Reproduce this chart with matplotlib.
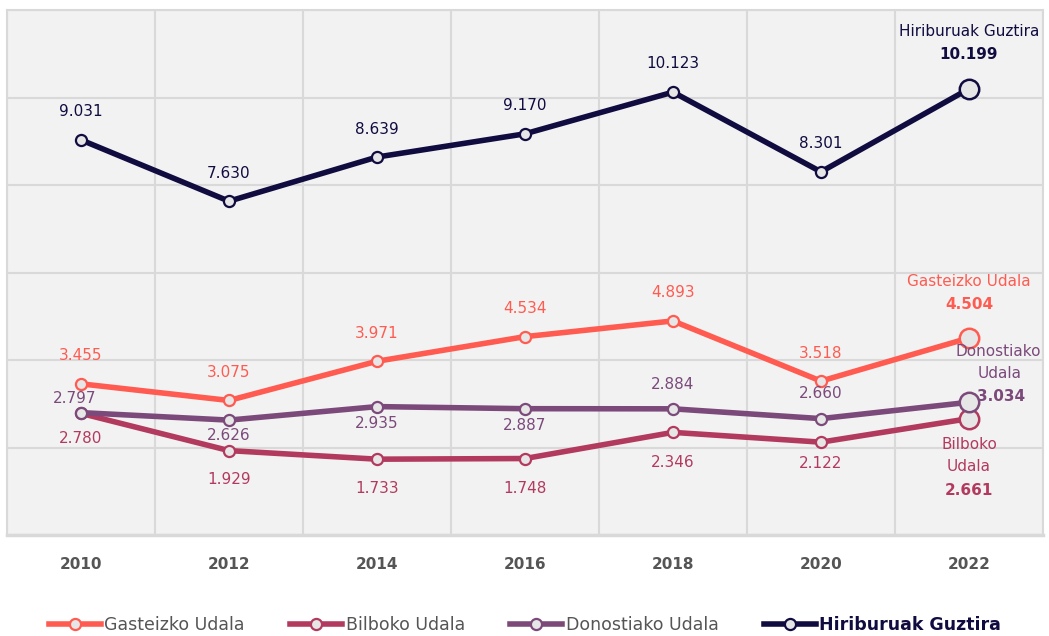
import matplotlib.pyplot as plt
from matplotlib.ticker import MultipleLocator, FixedLocator

years = ['2010', '2012', '2014', '2016', '2018', '2020', '2022']
gasteiz = [3.455, 3.075, 3.971, 4.534, 4.893, 3.518, 4.504]
bilbo = [2.780, 1.929, 1.733, 1.748, 2.346, 2.122, 2.661]
donostia = [2.797, 2.626, 2.935, 2.887, 2.884, 2.660, 3.034]
guztira = [9.031, 7.630, 8.639, 9.170, 10.123, 8.301, 10.199]

names = ['Gasteizko Udala', 'Bilboko Udala', 'Donostiako Udala', 'Hiriburuak Guztira']
colors = ['#ff5b50', '#b33a5f', '#7b4a7b', '#100c40']

# label offsets from each point (pixels, up is positive), last point handled apart
g_off = [(0, 28), (0, 28), (0, 28), (0, 28), (0, 28), (0, 28)]
b_off = [(0, -25), (0, -29), (0, -29), (0, -30), (0, -30), (0, -21)]
d_off = [(-6, 14), (0, -15), (0, -17), (0, -17), (0, 24), (0, 25)]
h_off = [(0, 28), (0, 28), (0, 28), (0, 28), (0, 29), (0, 28)]

PT = 0.72  # points per pixel at 100 dpi


def fmt(v):
    return f'{v:.3f}'


fig = plt.figure(figsize=(10.49, 6.36), dpi=100)
ax = fig.add_axes([7 / 1049, 1 - 535 / 636, 1036 / 1049, 525 / 636])
ax.set_facecolor('#f2f2f2')
x = list(range(len(years)))

series = [gasteiz, bilbo, donostia, guztira]
offsets = [g_off, b_off, d_off, h_off]
for vals, name, c, offs in zip(series, names, colors, offsets):
    ax.plot(x, vals, color=c, lw=4, marker='o', ms=8, mfc='#e6e6e6', mec=c, mew=1.6,
            label=name, zorder=3)
    ax.plot(x[-1], vals[-1], marker='o', ms=14, mfc='#e6e6e6', mec=c, mew=1.8, zorder=4)
    for i in range(len(vals) - 1):
        dx, dy = offs[i]
        ax.annotate(fmt(vals[i]), (x[i], vals[i]), xytext=(dx * PT, dy * PT),
                    textcoords='offset points', ha='center', va='center',
                    fontsize=11, color=c, zorder=5)


def end_label(text, val, c, dx, dy, bold=False):
    ax.annotate(text, (x[-1], val), xytext=(dx * PT, dy * PT), textcoords='offset points',
                ha='center', va='center', fontsize=11, color=c,
                fontweight='bold' if bold else 'normal', zorder=5)


end_label('Hiriburuak Guztira', guztira[-1], colors[3], 0, 57)
end_label(fmt(guztira[-1]), guztira[-1], colors[3], 0, 34, True)
end_label('Gasteizko Udala', gasteiz[-1], colors[0], 0, 56)
end_label(fmt(gasteiz[-1]), gasteiz[-1], colors[0], 0, 33, True)
end_label('Donostiako', donostia[-1], colors[2], 29, 51)
end_label('Udala', donostia[-1], colors[2], 31, 29)
end_label(fmt(donostia[-1]), donostia[-1], colors[2], 32, 6, True)
end_label('Bilboko', bilbo[-1], colors[1], 0, -26)
end_label('Udala', bilbo[-1], colors[1], 0, -48)
end_label(fmt(bilbo[-1]), bilbo[-1], colors[1], 0, -72, True)

ax.set_xlim(-0.5, len(years) - 0.5)
ax.set_ylim(0, 12)
ax.set_xticks(x)
ax.set_xticklabels(years, fontsize=11, fontweight='bold', color='#555555')
ax.xaxis.set_minor_locator(FixedLocator([i - 0.5 for i in range(len(years) + 1)]))
ax.yaxis.set_major_locator(MultipleLocator(2))
ax.tick_params(axis='both', which='both', length=0)
ax.tick_params(axis='x', pad=16)
ax.set_yticklabels([])
ax.grid(True, which='minor', axis='x', color='#d9d9d9', lw=1.5)
ax.grid(True, which='major', axis='y', color='#d9d9d9', lw=1.5)
for s in ax.spines.values():
    s.set_color('#d9d9d9')
    s.set_linewidth(1.5)
ax.spines['bottom'].set_linewidth(2.5)

leg = ax.legend(loc='upper center', bbox_to_anchor=(0.5, -0.125), ncol=4, frameon=False,
                fontsize=12.5, handlelength=3, columnspacing=2.6, handletextpad=0.2)
for t in leg.get_texts():
    t.set_color('#555555')
leg.get_texts()[3].set_fontweight('bold')
leg.get_texts()[3].set_color(colors[3])

fig.savefig('out.png', dpi=100)
